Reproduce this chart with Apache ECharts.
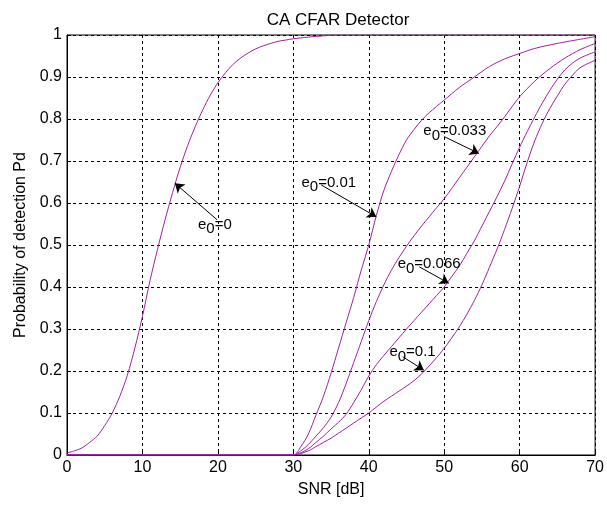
<!DOCTYPE html>
<html>
<head>
<meta charset="utf-8">
<script src="https://cdn.jsdelivr.net/npm/echarts@6/dist/echarts.min.js"></script>
<style>
	html, body { margin: 0; padding: 0; background: #fff; }
	#main { width: 607px; height: 505px; }
</style>
</head>
<body>
<div id="main"></div>
<script>
// e0 = 0 curve
const snrA = [0, 1, 2, 3, 4, 5, 6, 7, 8, 9, 10, 11, 12, 13, 14, 15, 16, 17, 18, 19, 20, 21, 22, 23, 24, 25, 26, 27, 28, 29, 30, 32, 34, 36, 70];
const pdA = [0.005, 0.01, 0.017, 0.03, 0.045, 0.07, 0.1, 0.14, 0.19, 0.255, 0.33, 0.415, 0.49, 0.56, 0.625, 0.685, 0.737, 0.782, 0.822, 0.857, 0.886, 0.91, 0.93, 0.945, 0.957, 0.967, 0.974, 0.98, 0.985, 0.988, 0.991, 0.995, 0.998, 1.0, 1.0];

// e0 = 0.01
const snrB = [0, 30, 31, 32, 33, 34, 35, 36, 37, 38, 39, 40, 41, 42, 43, 44, 45, 46, 47, 48, 50, 52, 54, 56, 58, 60, 62, 65, 70];
const pdB = [0, 0, 0.02, 0.05, 0.095, 0.14, 0.195, 0.255, 0.315, 0.375, 0.44, 0.5, 0.57, 0.63, 0.675, 0.715, 0.75, 0.775, 0.797, 0.815, 0.845, 0.875, 0.9, 0.925, 0.943, 0.956, 0.968, 0.98, 0.996];

// e0 = 0.033
const snrC = [0, 30, 31, 32, 33, 34, 35, 36, 37, 38, 39, 40, 41, 42, 43, 44, 45, 46, 47, 48, 49, 50, 51, 52, 53, 54, 55, 56, 57, 58, 60, 62, 64, 66, 68, 70];
const pdC = [0, 0, 0.01, 0.025, 0.045, 0.065, 0.09, 0.125, 0.17, 0.22, 0.27, 0.32, 0.365, 0.405, 0.44, 0.47, 0.497, 0.522, 0.545, 0.567, 0.589, 0.61, 0.635, 0.66, 0.685, 0.71, 0.735, 0.76, 0.782, 0.805, 0.853, 0.89, 0.92, 0.945, 0.965, 0.98];

// e0 = 0.066
const snrD = [0, 30, 32, 33, 34, 35, 36, 37, 38, 39, 40, 41, 42, 43, 44, 45, 46, 47, 48, 49, 50, 51, 52, 53, 54, 55, 56, 57, 58, 59, 60, 61, 62, 63, 64, 65, 66, 67, 68, 70];
const pdD = [0, 0, 0.015, 0.03, 0.045, 0.062, 0.078, 0.097, 0.125, 0.155, 0.188, 0.215, 0.237, 0.258, 0.279, 0.3, 0.32, 0.34, 0.36, 0.38, 0.4, 0.425, 0.45, 0.48, 0.51, 0.545, 0.58, 0.615, 0.652, 0.693, 0.733, 0.77, 0.805, 0.838, 0.868, 0.895, 0.917, 0.933, 0.945, 0.96];

// e0 = 0.1
const snrE = [0, 30, 32, 33, 34, 35, 36, 37, 38, 39, 40, 41, 42, 43, 44, 45, 46, 47, 48, 49, 50, 51, 52, 53, 54, 55, 56, 57, 58, 59, 60, 61, 62, 63, 64, 65, 66, 67, 68, 70];
const pdE = [0, 0, 0.01, 0.02, 0.03, 0.04, 0.052, 0.064, 0.076, 0.088, 0.1, 0.114, 0.128, 0.14, 0.152, 0.164, 0.177, 0.193, 0.212, 0.232, 0.254, 0.279, 0.305, 0.335, 0.368, 0.405, 0.447, 0.49, 0.537, 0.587, 0.64, 0.697, 0.748, 0.79, 0.825, 0.855, 0.883, 0.904, 0.922, 0.94];

// annotations: label, text position, arrow tail, arrow head (data coords)
const noteNames = ['0', '0.01', '0.033', '0.066', '0.1'];
const notePos = [[19.6, 0.548], [34.7, 0.648], [51.4, 0.771], [48.0, 0.455], [45.8, 0.245]];
const noteTail = [[19.9, 0.56], [33.7, 0.643], [50.0, 0.758], [46.7, 0.448], [44.5, 0.234]];
const noteHead = [[14.3, 0.647], [41.0, 0.567], [54.6, 0.718], [50.6, 0.409], [47.3, 0.202]];

const xTicks = [0, 10, 20, 30, 40, 50, 60, 70];

function pairs(xs, ys) {
	let out = [];
	xs.forEach((x, i) => out.push([x, ys[i]]));
	return out;
}

const font = '"Liberation Sans", Arial, sans-serif';
const curveColor = '#a020a0';

let chart = echarts.init(document.getElementById('main'));

let curves = [[snrA, pdA], [snrB, pdB], [snrC, pdC], [snrD, pdD], [snrE, pdE]];
let series = curves.map((c, i) => ({
	type: 'line',
	data: pairs(c[0], c[1]),
	smooth: 0.3,
	showSymbol: false,
	symbol: 'none',
	lineStyle: { color: curveColor, width: 1 },
	silent: true,
	z: 3,
	markLine: {
		silent: true,
		symbol: ['none', 'arrow'],
		symbolSize: [9, 9],
		label: { show: false },
		lineStyle: { color: '#000', width: 1, type: 'solid' },
		data: [[{ coord: noteTail[i] }, { coord: noteHead[i] }]]
	},
	markPoint: {
		silent: true,
		symbol: 'circle',
		symbolSize: 0,
		label: {
			show: true,
			position: 'inside',
			formatter: '{e|e}{s|0}{e|=' + noteNames[i] + '}',
			rich: {
				e: { fontFamily: font, fontSize: 15, color: '#000', lineHeight: 18, verticalAlign: 'middle' },
				s: { fontFamily: font, fontSize: 15, color: '#000', lineHeight: 18, padding: [9, 0, 0, 0], verticalAlign: 'middle' }
			}
		},
		data: [{ coord: notePos[i] }]
	}
}));

const option = {
	animation: false,
	backgroundColor: '#fff',
	title: {
		text: 'CA CFAR Detector',
		left: 333,
		textAlign: 'center',
		top: 7,
		textStyle: { fontFamily: font, fontSize: 17, fontWeight: 'normal', color: '#000' }
	},
	grid: {
		left: 67,
		top: 35,
		right: 8,
		bottom: 50,
		show: true,
		borderColor: '#000',
		borderWidth: 1,
		backgroundColor: '#fff'
	},
	xAxis: {
		type: 'value',
		min: 0,
		max: 70,
		interval: 10,
		name: 'SNR [dB]',
		nameLocation: 'middle',
		nameGap: 27,
		nameTextStyle: { fontFamily: font, fontSize: 16, color: '#000' },
		axisLine: { lineStyle: { color: '#000' } },
		axisTick: { inside: true, length: 4, lineStyle: { color: '#000' } },
		axisLabel: {
			fontFamily: font, fontSize: 16, color: '#000', margin: 5,
			formatter: v => xTicks.includes(v) ? String(v) : ''
		},
		splitLine: { show: true, lineStyle: { color: '#000', type: [3, 3], width: 1 } }
	},
	yAxis: {
		type: 'value',
		min: 0,
		max: 1,
		interval: 0.1,
		name: 'Probability of detection Pd',
		nameLocation: 'middle',
		nameGap: 38,
		nameTextStyle: { fontFamily: font, fontSize: 16, color: '#000' },
		axisLine: { lineStyle: { color: '#000' } },
		axisTick: { inside: true, length: 4, lineStyle: { color: '#000' } },
		axisLabel: {
			fontFamily: font, fontSize: 16, color: '#000', margin: 5,
			formatter: v => (v === 0 || v === 1) ? String(v) : v.toFixed(1)
		},
		splitLine: { show: true, lineStyle: { color: '#000', type: [3, 3], width: 1 } }
	},
	series: series
};
chart.setOption(option);
</script>
</body>
</html>
